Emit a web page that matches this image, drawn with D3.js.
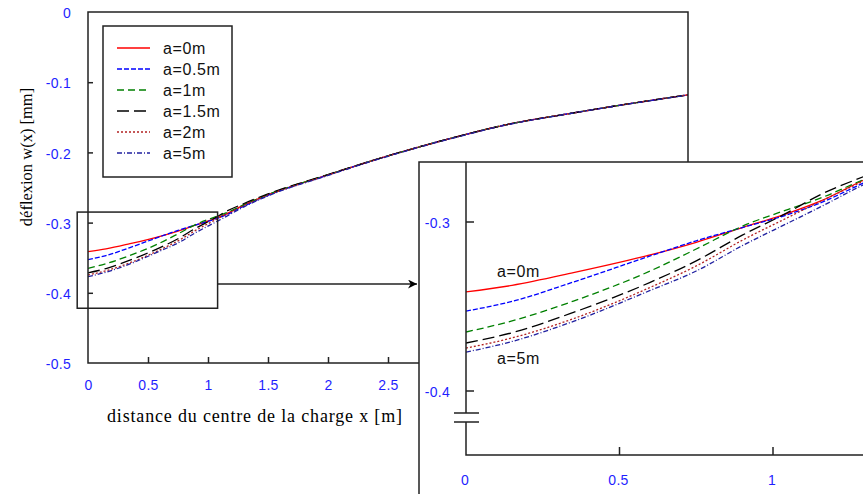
<!DOCTYPE html>
<html>
<head>
<meta charset="utf-8">
<script src="https://cdn.jsdelivr.net/npm/d3@7"></script>
<style>
  body { margin: 0; background: #fff; }
  .tick-label { font-family: "Liberation Sans", Arial, sans-serif; font-size: 14px; letter-spacing: 0.3px; fill: #1f1fff; }
  .title { font-family: "Liberation Serif", "Times New Roman", serif; font-size: 18px; fill: #000; }
  .legend-text, .note { font-family: "Liberation Sans", Arial, sans-serif; font-size: 16px; letter-spacing: 0.6px; fill: #111; }
</style>
</head>
<body>
<div class="chart"></div>
<script>
// data
const xs = [0, 0.15, 0.35, 0.6, 0.75, 0.9, 1.05, 1.15, 1.3, 1.5, 2, 2.5, 3, 3.5, 4, 4.5, 5];
const a0 = [-0.3414, -0.3375, -0.330, -0.3195, -0.3120, -0.3033, -0.2948, -0.2880, -0.2748, -0.2605, -0.232, -0.205, -0.181, -0.160, -0.145, -0.131, -0.118];
const a05 = [-0.3527, -0.3470, -0.3355, -0.3201, -0.3111, -0.3033, -0.2955, -0.2890, -0.2765, -0.2612, -0.2322, -0.205, -0.181, -0.160, -0.145, -0.131, -0.118];
const a1 = [-0.3651, -0.3585, -0.3468, -0.3290, -0.3160, -0.3025, -0.2925, -0.2862, -0.2745, -0.2600, -0.2318, -0.205, -0.181, -0.160, -0.145, -0.131, -0.118];
const a15 = [-0.3716, -0.3655, -0.3535, -0.3357, -0.3230, -0.3078, -0.2942, -0.2842, -0.2728, -0.2592, -0.2315, -0.2048, -0.181, -0.160, -0.145, -0.131, -0.118];
const a2 = [-0.3746, -0.3686, -0.3572, -0.3387, -0.3260, -0.3108, -0.2972, -0.2882, -0.2755, -0.2608, -0.2322, -0.205, -0.181, -0.160, -0.145, -0.131, -0.118];
const a5 = [-0.3770, -0.3707, -0.3588, -0.3405, -0.3290, -0.3140, -0.3005, -0.2915, -0.2775, -0.2620, -0.2328, -0.2055, -0.1815, -0.1605, -0.1452, -0.1312, -0.1182];

const seriesNames = ["a=0m", "a=0.5m", "a=1m", "a=1.5m", "a=2m", "a=5m"];
const seriesValues = [a0, a05, a1, a15, a2, a5];
const colors = ["#ff0000", "#0000ff", "#008000", "#000000", "#b22222", "#2020a0"];
const dashes = ["none", "5,2", "7,4", "12,5", "2,2", "5,2,1,2"];

const mainXTicks = [0, 0.5, 1, 1.5, 2, 2.5, 3, 3.5, 4, 4.5, 5];
const mainYTicks = [0, -0.1, -0.2, -0.3, -0.4, -0.5];
const insetXTicks = [0, 0.5, 1];
const insetYTicks = [-0.3, -0.4];

const series = seriesNames.map((name, i) => ({
  name: name,
  color: colors[i],
  dash: dashes[i],
  points: xs.map((x, j) => ({ x: x, y: seriesValues[i][j] }))
}));

const totalWidth = 863, totalHeight = 494;
const insetLeft = 419, insetTop = 162;

const svg = d3.select(".chart").append("svg")
  .attr("width", totalWidth)
  .attr("height", totalHeight);

//main plot scales
const xScale = d3.scaleLinear().domain([0, 5]).range([88, 688]);
const yScale = d3.scaleLinear().domain([-0.5, 0]).range([363, 12]);

svg.append("clipPath").attr("id", "mainClip")
  .append("rect").attr("x", 88).attr("y", 12).attr("width", 600).attr("height", 351);

const mainLine = d3.line()
  .x((d) => xScale(d.x))
  .y((d) => yScale(d.y))
  .curve(d3.curveMonotoneX);

const mainGroup = svg.append("g");

mainGroup.append("g").attr("clip-path", "url(#mainClip)")
  .selectAll("path")
  .data(series)
  .enter()
  .append("path")
  .attr("d", (d) => mainLine(d.points))
  .attr("fill", "none")
  .attr("stroke", (d) => d.color)
  .attr("stroke-width", 1.3)
  .attr("stroke-dasharray", (d) => d.dash);

//frame
mainGroup.append("rect")
  .attr("x", 88).attr("y", 12).attr("width", 600).attr("height", 351)
  .attr("fill", "none").attr("stroke", "#222").attr("stroke-width", 1.5);

//x axis inside ticks, labels hidden by the inset are left out
const xAxis = d3.axisBottom(xScale)
  .tickValues(mainXTicks.filter((d) => xScale(d) < insetLeft))
  .tickSizeInner(-6).tickSizeOuter(0)
  .tickFormat(d3.format(""));
const gx = mainGroup.append("g").attr("transform", "translate(0,363)").call(xAxis);
gx.select(".domain").remove();
gx.selectAll(".tick line").attr("stroke", "#222").attr("stroke-width", 1.5)
  .filter((d) => d === 0).remove();
gx.selectAll(".tick text").attr("class", "tick-label").attr("y", 22).attr("dy", "0.35em");

//y axis inside ticks
const yAxis = d3.axisLeft(yScale).tickValues(mainYTicks).tickSizeInner(-5).tickSizeOuter(0)
  .tickFormat((d) => d === 0 ? "0" : d3.format(".1f")(d).replace("−", "-"));
const gy = mainGroup.append("g").attr("transform", "translate(88,0)").call(yAxis);
gy.select(".domain").remove();
gy.selectAll(".tick line").attr("stroke", "#222").attr("stroke-width", 1.5)
  .filter((d) => d === 0 || d === -0.5).remove();
gy.selectAll(".tick text").attr("class", "tick-label").attr("x", -17).attr("dy", "0.4em");

//axis titles
svg.append("text").attr("class", "title")
  .attr("x", 107).attr("y", 422)
  .attr("textLength", 295).attr("lengthAdjust", "spacing")
  .text("distance du centre de la charge x [m]");

svg.append("text").attr("class", "title")
  .attr("transform", "translate(32,157) rotate(-90)")
  .attr("text-anchor", "middle")
  .style("font-size", "16.5px")
  .text("déflexion w(x) [mm]");

//legend
const legendGroup = svg.append("g");
legendGroup.append("rect")
  .attr("x", 103).attr("y", 26).attr("width", 129).attr("height", 151)
  .attr("fill", "#fff").attr("stroke", "#222").attr("stroke-width", 1.5);

legendGroup.selectAll("line")
  .data(series)
  .enter()
  .append("line")
  .attr("x1", 117).attr("x2", 150)
  .attr("y1", (d, i) => 48 + i * 21)
  .attr("y2", (d, i) => 48 + i * 21)
  .attr("stroke", (d) => d.color)
  .attr("stroke-width", 1.3)
  .attr("stroke-dasharray", (d) => d.dash);

legendGroup.selectAll("text")
  .data(series)
  .enter()
  .append("text")
  .attr("class", "legend-text")
  .attr("x", 163)
  .attr("y", (d, i) => 48 + i * 21)
  .attr("dy", "0.36em")
  .text((d) => d.name);

//zoom box and arrow
const boxX0 = xScale(-0.09), boxX1 = xScale(1.08);
const boxY0 = yScale(-0.285), boxY1 = yScale(-0.422);
svg.append("rect")
  .attr("x", boxX0).attr("y", boxY0)
  .attr("width", boxX1 - boxX0).attr("height", boxY1 - boxY0)
  .attr("fill", "none").attr("stroke", "#222").attr("stroke-width", 1.5);

svg.append("defs").append("marker")
  .attr("id", "arrow")
  .attr("viewBox", "0 0 10 10")
  .attr("refX", 10).attr("refY", 5)
  .attr("markerWidth", 14).attr("markerHeight", 9)
  .attr("markerUnits", "userSpaceOnUse")
  .attr("orient", "auto")
  .append("path").attr("d", "M0,0 L10,5 L0,10 L3,5 Z").attr("fill", "#000");

svg.append("line")
  .attr("x1", boxX1).attr("x2", 417)
  .attr("y1", 284).attr("y2", 284)
  .attr("stroke", "#222").attr("stroke-width", 1.5)
  .attr("marker-end", "url(#arrow)");

//inset
const inset = svg.append("g");
inset.append("rect")
  .attr("x", insetLeft).attr("y", insetTop).attr("width", 460).attr("height", 350)
  .attr("fill", "#fff").attr("stroke", "#222").attr("stroke-width", 1.5);

const ixScale = d3.scaleLinear().domain([0, 1]).range([466, 773]);
const iyScale = d3.scaleLinear().domain([-0.4, -0.3]).range([391, 222]);

svg.append("clipPath").attr("id", "insetClip")
  .append("rect").attr("x", 466).attr("y", 163).attr("width", 400).attr("height", 292);

const insetLine = d3.line()
  .x((d) => ixScale(d.x))
  .y((d) => iyScale(d.y))
  .curve(d3.curveMonotoneX);

inset.append("g").attr("clip-path", "url(#insetClip)")
  .selectAll("path")
  .data(series)
  .enter()
  .append("path")
  .attr("d", (d) => insetLine(d.points.filter((p) => p.x <= 1.5)))
  .attr("fill", "none")
  .attr("stroke", (d) => d.color)
  .attr("stroke-width", 1.3)
  .attr("stroke-dasharray", (d) => d.dash);

//inset axes with a break
inset.append("path")
  .attr("d", "M466,162 V413 M466,422 V455 H870")
  .attr("fill", "none").attr("stroke", "#222").attr("stroke-width", 1.5);
inset.append("path")
  .attr("d", "M454,413 H479 M454,422 H479")
  .attr("fill", "none").attr("stroke", "#222").attr("stroke-width", 1.5);

inset.selectAll(".ytick")
  .data(insetYTicks)
  .enter()
  .append("line")
  .attr("class", "ytick")
  .attr("x1", 466).attr("x2", 474)
  .attr("y1", (d) => iyScale(d)).attr("y2", (d) => iyScale(d))
  .attr("stroke", "#222").attr("stroke-width", 1.5);

inset.selectAll(".ylab")
  .data(insetYTicks)
  .enter()
  .append("text")
  .attr("class", "tick-label")
  .attr("x", 450).attr("y", (d) => iyScale(d)).attr("dy", "0.4em")
  .attr("text-anchor", "end")
  .text((d) => d3.format(".1f")(d).replace("−", "-"));

inset.selectAll(".xtick")
  .data(insetXTicks.filter((d) => d > 0))
  .enter()
  .append("line")
  .attr("class", "xtick")
  .attr("x1", (d) => ixScale(d)).attr("x2", (d) => ixScale(d))
  .attr("y1", 455).attr("y2", 447)
  .attr("stroke", "#222").attr("stroke-width", 1.5);

inset.selectAll(".xlab")
  .data(insetXTicks)
  .enter()
  .append("text")
  .attr("class", "tick-label")
  .attr("x", (d) => ixScale(d) - 1).attr("y", 480).attr("dy", "0.35em")
  .attr("text-anchor", "middle")
  .text((d) => d3.format("")(d));

//curve notes
inset.append("text").attr("class", "note").attr("x", 497).attr("y", 277).text("a=0m");
inset.append("text").attr("class", "note").attr("x", 497).attr("y", 364).text("a=5m");
</script>
</body>
</html>
